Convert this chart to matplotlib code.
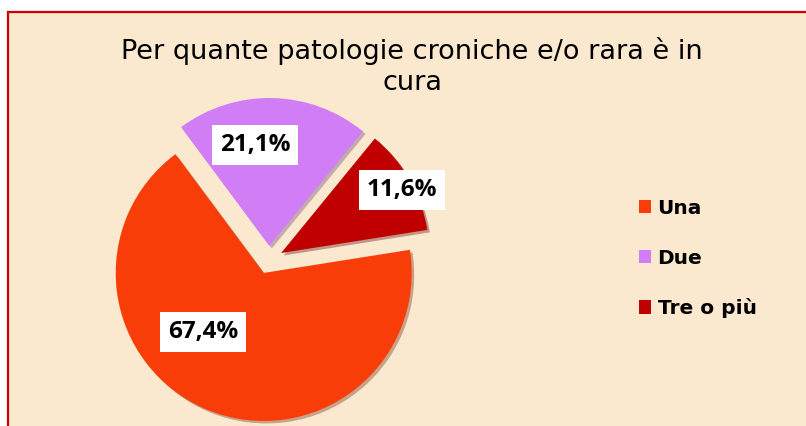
import math
import matplotlib
matplotlib.use("Agg")
import matplotlib.pyplot as plt
from matplotlib.patches import Rectangle

# dati
categorie = ["Una", "Due", "Tre o più"]
valori = [67.4, 21.1, 11.6]
etichette = ["67,4%", "21,1%", "11,6%"]
colori = ["#F93D09", "#D17EF6", "#C00000"]

titolo = "Per quante patologie croniche e/o rara è in\ncura"

# layout (pixel)
W, H = 806, 426
bg = "#FAE8CF"
centro = (269, H - 260)
raggio = 148
stacco = 14
# posizione etichette: frazione del raggio e angolo dal vertice dello spicchio
lab_dist = [0.57, 0.69, 0.92]
lab_ang = [-136, 98, 27.6]

fig = plt.figure(figsize=(W / 100, H / 100), dpi=100, facecolor="white")
ax = fig.add_axes([0, 0, 1, 1])

ax.add_patch(Rectangle((8, -20), W + 40, H - 12 + 20, facecolor=bg,
                       edgecolor="#CC0000", linewidth=1.6, zorder=0))

wedges, _ = ax.pie(valori, colors=colori, startangle=9, counterclock=False,
                   center=centro, radius=raggio, explode=[stacco] * 3,
                   shadow={"ox": 1.8, "oy": -1.8, "shade": 0.55, "alpha": 0.35},
                   wedgeprops={"linewidth": 0}, frame=True)
ax.set_xlim(0, W)
ax.set_ylim(0, H)
ax.axis("off")

for w, lab, d, a in zip(wedges, etichette, lab_dist, lab_ang):
    cx, cy = w.center
    x = cx + d * raggio * math.cos(math.radians(a))
    y = cy + d * raggio * math.sin(math.radians(a))
    ax.text(x, y, lab, ha="center", va="center", fontsize=17.5,
            fontweight="bold", family="Open Sans", color="black",
            bbox=dict(boxstyle="square,pad=0.33", fc="white", ec="none"))

ax.text(412, H - 37, titolo, ha="center", va="top", fontsize=19.5,
        family="DejaVu Sans", linespacing=1.25, multialignment="center")

ax.legend(wedges, categorie, loc="center left",
          bbox_to_anchor=(639, H - 258.5), bbox_transform=ax.transData,
          frameon=False,
          prop={"family": "DejaVu Sans", "size": 14.5, "weight": "bold"},
          handlelength=0.62, handleheight=0.62, handletextpad=0.3,
          labelspacing=1.52, borderpad=0, borderaxespad=0)

fig.savefig("out.png", dpi=100, facecolor="white")
